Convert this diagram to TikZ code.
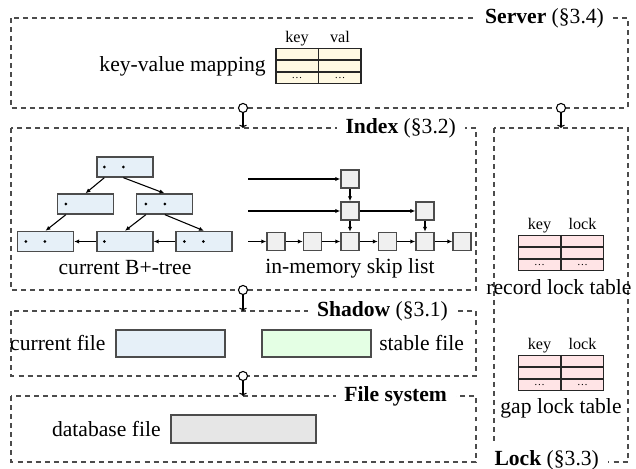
\documentclass[tikz,border=0pt]{standalone}
\usepackage{fontspec}
\setmainfont{Liberation Serif}
\usetikzlibrary{positioning}
\usetikzlibrary{calc}
\usetikzlibrary{arrows.meta}

\definecolor{treeblue}{HTML}{E6F0F8}
\definecolor{stablegreen}{HTML}{E4FFE4}
\definecolor{diskgray}{HTML}{E6E6E6}
\definecolor{skipgray}{HTML}{F0F0F0}
\definecolor{kvyellow}{HTML}{FFF9E3}
\definecolor{lockpink}{HTML}{FFE4E6}

\tikzset{
  grp/.style={draw=black!70, line width=0.5pt, dash pattern=on 2.3pt off 1.9pt},
  grplabel/.style={fill=white, inner sep=4pt, anchor=east},
  bnode/.style={draw=black!70, fill=treeblue, line width=0.6pt, minimum width=25.9pt, minimum height=9.3pt, inner sep=0pt},
  snode/.style={draw=black!70, fill=skipgray, line width=0.6pt, minimum size=8.4pt, inner sep=0pt},
  filebox/.style={draw=black!70, line width=0.6pt, minimum width=50.5pt, minimum height=12.5pt, inner sep=0pt},
  tbl/.style={draw=black!85, line width=0.6pt, minimum width=39.3pt, minimum height=16.2pt, inner sep=0pt},
  hook/.style={circle, draw, fill=white, line width=0.5pt, minimum size=4.2pt, inner sep=0pt},
  ptr/.style={-{Latex[length=2.3pt,width=2pt]}, line width=0.5pt},
  hooklink/.style={-{To[length=1.5pt,width=3.5pt]}, line width=0.5pt},
  hdr/.style={above, inner sep=1pt, text height=1.5ex, text depth=0.3ex, font=\fontsize{7.5}{8}\selectfont},
  cell/.style={inner sep=0pt, font=\tiny},
}

% table: name, centre, fill, left header, right header
\newcommand{\kvtable}[5]{%
  \node[tbl, fill=#3] (#1) at (#2) {};
  \draw[black!85, line width=0.6pt] (#1.north) -- (#1.south);
  \draw[black!85, line width=0.8pt] ($(#1.north west)!1/3!(#1.south west)$) -- ($(#1.north east)!1/3!(#1.south east)$);
  \draw[black!85, line width=0.8pt] ($(#1.north west)!2/3!(#1.south west)$) -- ($(#1.north east)!2/3!(#1.south east)$);
  \node[hdr] (#1k) at ($(#1.north west)!0.25!(#1.north east)$) {#4};
  \node[hdr] (#1v) at ($(#1.north west)!0.75!(#1.north east)$) {#5};
  \node[cell] (#1d1) at ($(#1.south west)!0.25!(#1.south east)+(0,-6)$) {\ldots};
  \node[cell] (#1d2) at ($(#1.south west)!0.75!(#1.south east)+(0,-6)$) {\ldots};
}

\begin{document}
\begin{tikzpicture}[x=0.463pt, y=-0.463pt]
\useasboundingbox (0,0) rectangle (636,469);

% layers
\draw[grp] (11,18) rectangle (628,108);
\draw[grp] (11,128) rectangle (476,290);
\draw[grp] (494,128) rectangle (628,462);
\draw[grp] (11,311) rectangle (476,376);
\draw[grp] (11,396) rectangle (476,462);

\node[grplabel] (srvLbl) at (613,18) {\textbf{Server} (§3.4)};
\node[grplabel] (idxLbl) at (465,128) {\textbf{Index} (§3.2)};
\node[grplabel] (shdLbl) at (457,311) {\textbf{Shadow} (§3.1)};
\node[grplabel] (fsLbl) at (456,396) {\textbf{File system}};
\node[grplabel] (lckLbl) at (608,460) {\textbf{Lock} (§3.3)};

% server
\kvtable{kv}{318.5,66}{kvyellow}{key}{val}
\node[left=1pt of kv] (kvLbl) {key-value mapping};

% B+-tree
\node[bnode] (root) at (125,167) {};
\node[bnode] (lft) at (85.5,204) {};
\node[bnode] (rgt) at (164.5,204) {};
\node[bnode] (lf1) at (45.5,241.5) {};
\node[bnode] (lf2) at (125,241.5) {};
\node[bnode] (lf3) at (204,241.5) {};
\fill ($(root.west)+(8,0)$) circle (0.7pt);
\fill ($(root.west)+(27,0)$) circle (0.7pt);
\fill ($(lft.west)+(9,0)$) circle (0.7pt);
\fill ($(rgt.west)+(10,0)$) circle (0.7pt);
\fill ($(rgt.west)+(29,0)$) circle (0.7pt);
\fill ($(lf1.west)+(9,0)$) circle (0.7pt);
\fill ($(lf1.west)+(28,0)$) circle (0.7pt);
\fill ($(lf2.west)+(8,0)$) circle (0.7pt);
\fill ($(lf3.west)+(9,0)$) circle (0.7pt);
\fill ($(lf3.west)+(28,0)$) circle (0.7pt);
\draw[ptr] ($(root.south west)+(8,0)$) -- (lft.north);
\draw[ptr] ($(root.south west)+(27,0)$) -- (rgt.north);
\draw[ptr] ($(lft.south west)+(9,0)$) -- (lf1.north);
\draw[ptr] ($(rgt.south west)+(10,0)$) -- (lf2.north);
\draw[ptr] ($(rgt.south west)+(29,0)$) -- (lf3.north);
\draw[ptr] (lf3) -- (lf2);
\draw[ptr] (lf2) -- (lf1);
\node (treeLbl) at (125,268) {current B+-tree};

% skip list
\node[snode] (s1) at (276,241.5) {};
\node[snode] (s2) at (312.5,241.5) {};
\node[snode] (s3) at (350,241.5) {};
\node[snode] (s4) at (387.5,241.5) {};
\node[snode] (s5) at (425,241.5) {};
\node[snode] (s6) at (462,241.5) {};
\node[snode] (m3) at (350,211) {};
\node[snode] (m5) at (425,211) {};
\node[snode] (t3) at (350,179) {};
\coordinate (head1) at (248,179);
\coordinate (head2) at (248,211);
\coordinate (head3) at (248,241.5);
\draw[ptr] (head1) -- (t3);
\draw[ptr] (head2) -- (m3);
\draw[ptr] (head3) -- (s1);
\draw[ptr] (s1) -- (s2);
\draw[ptr] (s2) -- (s3);
\draw[ptr] (s3) -- (s4);
\draw[ptr] (s4) -- (s5);
\draw[ptr] (s5) -- (s6);
\draw[ptr] (m3) -- (m5);
\draw[ptr] (t3) -- (m3);
\draw[ptr] (m3) -- (s3);
\draw[ptr] (m5) -- (s5);
\node (skipLbl) at (350,268) {in-memory skip list};

% lock tables
\kvtable{rec}{561,253}{lockpink}{key}{lock}
\node (recLbl) at (559,287) {record lock table};
\kvtable{gap}{561,373}{lockpink}{key}{lock}
\node (gapLbl) at (561,408) {gap lock table};

% shadow
\node[filebox, fill=treeblue] (cur) at (170.5,343.5) {};
\node[left=1pt of cur] (curLbl) {current file};
\node[filebox, fill=stablegreen] (stb) at (316.5,343.5) {};
\node[right=0pt of stb] (stbLbl) {stable file};

% file system
\node[filebox, fill=diskgray, minimum width=67.1pt, minimum height=13pt] (db) at (243.5,429) {};
\node[left=1pt of db] (dbLbl) {database file};

% hooks between layers
\node[hook] (h1) at (243,108) {};
\node[hook] (h2) at (561,108) {};
\node[hook] (h3) at (243,290) {};
\node[hook] (h4) at (243,376) {};
\coordinate (h1end) at (243,128);
\coordinate (h2end) at (561,128);
\coordinate (h3end) at (243,311);
\coordinate (h4end) at (243,396);
\draw[hooklink] (h1) -- (h1end);
\draw[hooklink] (h2) -- (h2end);
\draw[hooklink] (h3) -- (h3end);
\draw[hooklink] (h4) -- (h4end);
\end{tikzpicture}
\end{document}
